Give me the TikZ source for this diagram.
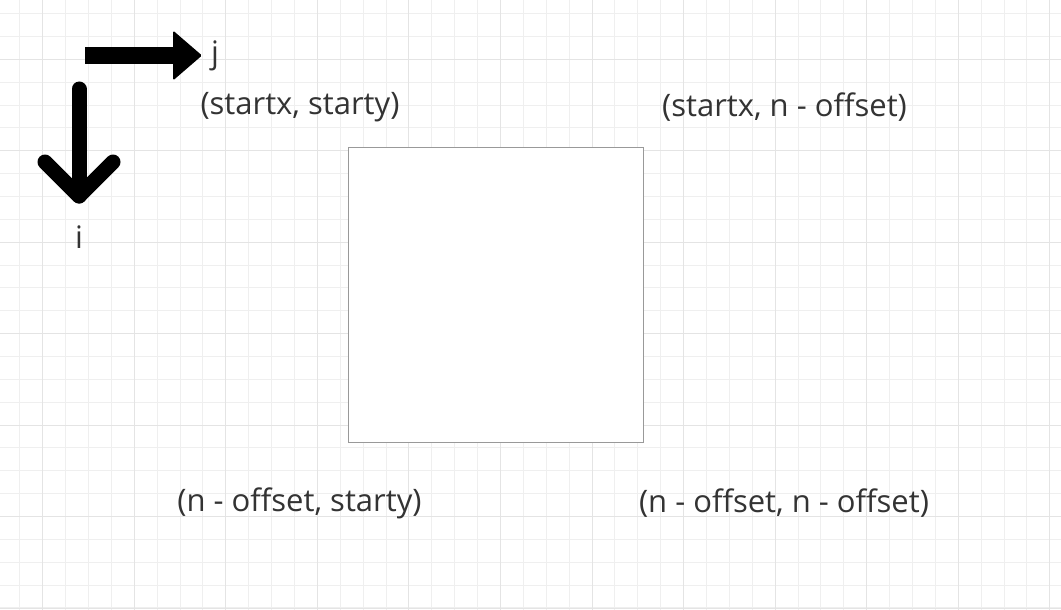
\documentclass[tikz,border=0pt]{standalone}
\usepackage{fontspec}
\setmainfont{Open Sans}
\usetikzlibrary{positioning}
\definecolor{gridminor}{HTML}{EFEFEF}
\definecolor{gridmajor}{HTML}{E4E4E4}
\definecolor{labeltext}{HTML}{333333}
\definecolor{boxline}{HTML}{999999}
\tikzset{corner node/.style={text=labeltext,font=\fontsize{31}{36}\selectfont,inner sep=0pt}}
\tikzset{square node/.style={draw=boxline,fill=white,line width=1.5pt,minimum size=295pt,inner sep=0pt}}
\tikzset{axis line/.style={black,line width=15pt,line cap=round,line join=round}}

\begin{document}
\begin{tikzpicture}[x=1pt,y=-1pt]
    \useasboundingbox (0,0) rectangle (1061,610);
    \fill[white] (0,0) rectangle (1061,610);
    % grid
    \foreach \k in {0,...,45} \draw[gridminor,line width=1pt] (19.8+\k*22.89,0) -- ++(0,610);
    \foreach \k in {0,...,26} \draw[gridminor,line width=1pt] (0,13.6+\k*22.86) -- ++(1061,0);
    \foreach \k in {0,...,11} \draw[gridmajor,line width=1pt] (42.7+\k*91.55,0) -- ++(0,610);
    \foreach \k in {0,...,6} \draw[gridmajor,line width=1pt] (0,59.3+\k*91.45) -- ++(1061,0);

    	\node[square node] (box) at (496,295) {};

    	\node[corner node] (v_{11}) at (300,107) {(startx, starty)};
    	\node[corner node] (v_{12}) at (784.5,107) {(startx, n - offset)};
    	\node[corner node] (v_{21}) at (299.5,503) {(n - offset, starty)};
    	\node[corner node] (v_{22}) at (784,503) {(n - offset, n - offset)};

    % j axis
    	\coordinate (jTail) at (85,55.5);
    	\coordinate (jNeck) at (175,55.5);
    	\coordinate (jTip) at (202,55.5);
    	\draw[black,line width=17pt] (jTail) -- (jNeck);
    	\fill[black,rounded corners=1.5pt] (jTip) -- ++(-29,-25) -- ++(0,50) -- cycle;
    	\node[corner node] (jlabel) [right = 9pt of jTip] {j};

    % i axis
    	\coordinate (iTail) at (79,89);
    	\coordinate (iHead) at (79,196);
    	\draw[axis line] (iTail) -- (iHead);
    	\draw[axis line] (iHead) ++(-34,-34) -- (iHead) -- ++(34,-34);
    	\node[corner node] (ilabel) [below = 30pt of iHead] {i};
    \end{tikzpicture}
\end{document}
